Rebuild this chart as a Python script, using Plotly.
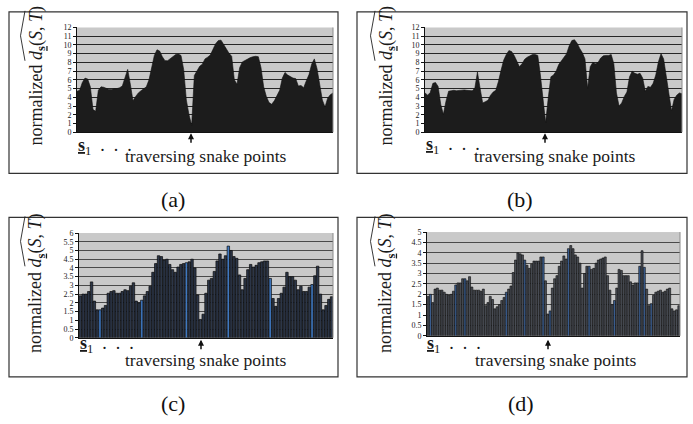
import plotly.graph_objects as go

W, H = 693, 424

# ---------------- data ----------------
a_vals = [4.7, 4.8, 5.7, 6.2, 6.1, 5.2, 2.6, 2.4, 4.8, 5.2, 5.15, 5.0, 4.9, 4.9, 5.0, 5.0,
          5.1, 5.3, 6.4, 7.2, 5.5, 3.6, 4.1, 4.5, 4.75, 5.0, 5.2, 6.0, 7.5, 8.8, 9.45, 9.3,
          8.65, 8.2, 8.2, 8.4, 8.7, 8.9, 8.95, 8.8, 7.2, 3.7, 2.0, 0.8, 6.5, 7.1, 7.55, 7.8,
          8.4, 8.6, 8.85, 9.5, 10.15, 10.5, 10.55, 10.05, 9.5, 9.05, 8.7, 6.0, 5.5, 7.4, 8.05,
          8.25, 8.45, 8.55, 8.65, 8.7, 8.65, 7.4, 5.2, 4.1, 3.4, 3.2, 3.6, 4.15, 4.8, 6.2,
          6.85, 6.55, 6.35, 6.2, 6.15, 5.3, 5.35, 5.1, 5.9, 6.6, 7.8, 8.4, 7.3, 5.6, 3.7,
          2.9, 3.9, 4.3, 4.5]

b_vals = [4.5, 4.25, 4.55, 5.6, 5.7, 5.25, 3.2, 2.05, 3.55, 4.7, 4.75, 4.8, 4.75, 4.8,
          4.85, 4.85, 4.8, 4.75, 4.75, 5.05, 6.9, 5.05, 3.35, 3.5, 3.65, 4.25, 4.6, 4.8,
          5.8, 7.1, 8.25, 8.9, 9.35, 9.25, 8.8, 8.15, 7.5, 7.85, 8.35, 8.6, 8.8, 8.9, 8.9,
          8.8, 6.55, 3.55, 1.1, 3.95, 6.35, 6.55, 7.0, 7.75, 8.15, 8.5, 9.0, 9.9, 10.5,
          10.6, 10.2, 9.6, 9.1, 8.4, 5.05, 7.5, 8.0, 7.85, 8.0, 8.5, 8.75, 8.8, 8.8, 8.9,
          7.85, 4.5, 3.0, 3.35, 4.1, 4.6, 6.35, 7.0, 6.75, 6.65, 6.75, 6.2, 4.7, 5.25, 5.15,
          5.6, 6.55, 8.05, 9.0, 8.4, 6.55, 4.3, 2.45, 3.75, 4.25, 4.5, 4.4]

c_vals = [2.4, 2.5, 2.5, 2.65, 3.2, 2.1, 1.6, 1.6, 1.7, 1.85, 2.55, 2.65, 2.7, 2.55, 2.55,
          2.65, 2.75, 2.7, 2.95, 3.15, 2.1, 2.0, 2.15, 2.4, 2.65, 2.95, 3.75, 4.25, 4.7,
          4.65, 4.45, 4.5, 4.2, 3.9, 3.75, 4.05, 4.2, 4.25, 4.3, 4.35, 4.5, 4.0, 2.45, 1.05,
          1.35, 2.55, 3.3, 3.4, 3.8, 4.4, 4.8, 4.5, 4.7, 5.25, 5.0, 4.65, 4.55, 3.6, 2.75,
          3.4, 3.9, 4.2, 4.05, 4.15, 4.3, 4.35, 4.4, 4.4, 3.4, 2.25, 1.8, 2.25, 2.55, 2.9,
          3.75, 3.5, 3.5, 3.3, 2.75, 2.95, 2.65, 2.65, 2.9, 3.05, 3.55, 4.1, 2.5, 1.6, 1.85,
          2.2, 2.35]
c_blue = [8, 23, 39, 54, 69, 84]

d_vals = [1.9, 2.0, 1.6, 2.25, 2.3, 2.2, 2.2, 2.1, 2.0, 1.95, 2.0, 2.15, 2.45, 2.55, 2.55,
          2.75, 2.75, 2.65, 2.85, 2.35, 2.2, 2.2, 2.2, 2.15, 2.25, 1.45, 1.6, 1.9, 1.75, 1.3,
          1.4, 1.5, 1.7, 1.85, 2.1, 2.25, 2.4, 3.05, 3.65, 4.0, 3.95, 3.9, 3.65, 3.4, 3.25,
          3.45, 3.6, 3.6, 3.6, 3.8, 3.8, 2.65, 1.05, 1.2, 2.3, 2.75, 2.9, 3.35, 3.6, 3.85,
          3.7, 4.2, 4.35, 4.2, 3.9, 3.8, 3.5, 2.3, 3.0, 3.35, 3.35, 3.2, 3.25, 3.5, 3.65,
          3.7, 3.75, 3.8, 2.9, 2.2, 1.5, 1.7, 2.3, 3.2, 3.15, 2.9, 2.9, 2.9, 2.6, 2.45, 2.55,
          2.55, 3.35, 4.1, 3.3, 2.25, 1.45, 1.55, 1.95, 2.1, 2.15, 2.2, 2.1, 2.15, 2.25, 2.3,
          1.3, 1.2, 1.25, 1.45]
d_blue = [2, 13, 17, 35, 43, 51, 54, 62, 71, 82, 93, 95, 98]

captions = ["(a)", "(b)", "(c)", "(d)"]
y_title = "normalized <i>d</i><sub><b><u>s</u></b></sub>(<i>S</i>, <i>T</i>)"
x_title = "traversing snake points"
start_label = "<b><u>s</u></b><sub>1</sub>  .  .  ."

SERIF = "Liberation Serif"


def px(x):
    return x / W


def py(y):
    return 1 - y / H


fig = go.Figure()

# area charts
fig.add_trace(go.Scatter(x=list(range(len(a_vals))), y=a_vals, mode="lines", fill="tozeroy",
                         line=dict(color="#111111", width=0.6), fillcolor="#1c1c1c",
                         xaxis="x", yaxis="y", showlegend=False))
fig.add_trace(go.Scatter(x=list(range(len(b_vals))), y=b_vals, mode="lines", fill="tozeroy",
                         line=dict(color="#111111", width=0.6), fillcolor="#1c1c1c",
                         xaxis="x2", yaxis="y2", showlegend=False))

# bar charts
c_cols = ["#3f78c0" if (i + 1) in c_blue else "#2c3648" for i in range(len(c_vals))]
d_cols = ["#3b5f92" if (i + 1) in d_blue else "#4a4e56" for i in range(len(d_vals))]
fig.add_trace(go.Bar(x=list(range(len(c_vals))), y=c_vals, marker=dict(color=c_cols, line=dict(color="#0a0a0a", width=0.7)),
                     xaxis="x3", yaxis="y3", showlegend=False))
fig.add_trace(go.Bar(x=list(range(len(d_vals))), y=d_vals, marker=dict(color=d_cols, line=dict(color="#0a0a0a", width=0.6)),
                     xaxis="x4", yaxis="y4", showlegend=False))

panels = [
    dict(ax="", plot=(77, 333, 24, 131), box=(9, 8, 338, 173), ymax=12, dtick=1, n=len(a_vals), kind="area",
         grid="#262626", ytx=37, yty=74, hat=(25, 20.5, 7, 58), s1=(76, 146), tx=(206, 155), arrow=(191, 132, 143), cap=(173, 200)),
    dict(ax="2", plot=(425, 682, 24, 131), box=(357, 8, 687, 173), ymax=12, dtick=1, n=len(b_vals), kind="area",
         grid="#262626", ytx=387, yty=74, hat=(375, 370.5, 7, 58), s1=(424, 145), tx=(555, 155), arrow=(545, 132, 143), cap=(520, 200)),
    dict(ax="3", plot=(79, 333, 234, 341), box=(9, 218, 338, 381), ymax=6, dtick=0.5, n=len(c_vals), kind="bar",
         grid="#4a4a4a", ytx=37, yty=286, hat=(25, 20.5, 217, 268), s1=(78, 348), tx=(206, 364), arrow=(201, 343, 354), cap=(173, 408)),
    dict(ax="4", plot=(427, 680, 233, 339), box=(357, 218, 687, 381), ymax=5, dtick=0.5, n=len(d_vals), kind="bar",
         grid="#4a4a4a", ytx=387, yty=286, hat=(375, 370.5, 217, 268), s1=(425, 348), tx=(556, 364), arrow=(548, 343, 354), cap=(521, 408)),
]

layout = dict(width=W, height=H, margin=dict(l=0, r=0, t=0, b=0), autosize=False,
              paper_bgcolor="white", plot_bgcolor="#c9c9c9", bargap=0.12,
              showlegend=False)
shapes = []
annotations = []

for i, p in enumerate(panels):
    x0, x1, yt, yb = p["plot"]
    xa = "xaxis" + p["ax"]
    ya = "yaxis" + p["ax"]
    if p["kind"] == "area":
        xr = [0, p["n"] - 1]
    else:
        xr = [-0.5, p["n"] - 0.5]
    layout[xa] = dict(domain=[px(x0), px(x1)], range=xr, showgrid=False, zeroline=False,
                      showticklabels=False, ticks="", showline=True, linecolor="#111", linewidth=1,
                      anchor="y" + p["ax"], fixedrange=True)
    layout[ya] = dict(domain=[py(yb), py(yt)], range=[0, p["ymax"]], dtick=p["dtick"], tick0=0,
                      showgrid=True, gridcolor=p["grid"], gridwidth=1, zeroline=False,
                      showline=True, linecolor="#111", linewidth=1, ticks="outside", ticklen=3,
                      tickcolor="#111", tickfont=dict(family=SERIF, size=8, color="#222"),
                      anchor="x" + p["ax"], fixedrange=True)
    # right edge of plot frame
    shapes.append(dict(type="line", xref="paper", yref="paper", x0=px(x1), x1=px(x1), y0=py(yb), y1=py(yt),
                       line=dict(color="#8a8a8a", width=1)))
    # panel box
    bx0, by0, bx1, by1 = p["box"]
    shapes.append(dict(type="rect", xref="paper", yref="paper", x0=px(bx0), x1=px(bx1), y0=py(by1), y1=py(by0),
                       line=dict(color="#333", width=1.2), fillcolor="rgba(0,0,0,0)"))
    # hat over d(S,T)
    hx_end, hx_apex, hy0, hy1 = p["hat"]
    path = "M %f,%f L %f,%f L %f,%f" % (px(hx_end), py(hy1), px(hx_apex), py((hy0 + hy1) / 2), px(hx_end), py(hy0))
    shapes.append(dict(type="path", xref="paper", yref="paper", path=path, line=dict(color="#222", width=0.9)))
    # y title
    annotations.append(dict(text=y_title, textangle=-90, x=px(p["ytx"]), y=py(p["yty"]), xref="paper", yref="paper",
                            xanchor="center", yanchor="middle", showarrow=False,
                            font=dict(family=SERIF, size=18, color="#1a1a1a")))
    # s1 ...
    annotations.append(dict(text=start_label, x=px(p["s1"][0]), y=py(p["s1"][1]), xref="paper", yref="paper",
                            xanchor="left", yanchor="middle", showarrow=False,
                            font=dict(family=SERIF, size=18, color="#1a1a1a")))
    # x title
    annotations.append(dict(text=x_title, x=px(p["tx"][0]), y=py(p["tx"][1]), xref="paper", yref="paper",
                            xanchor="center", yanchor="middle", showarrow=False,
                            font=dict(family=SERIF, size=17.5, color="#1a1a1a")))
    # arrow
    ax_x, tip_y, tail_y = p["arrow"]
    annotations.append(dict(text="", x=px(ax_x), y=py(tip_y), xref="paper", yref="paper",
                            ax=0, ay=(tail_y - tip_y), showarrow=True, arrowhead=2, arrowsize=0.8,
                            arrowwidth=1.5, arrowcolor="#111"))
    # caption
    annotations.append(dict(text=captions[i], x=px(p["cap"][0]), y=py(p["cap"][1]), xref="paper", yref="paper",
                            xanchor="center", yanchor="middle", showarrow=False,
                            font=dict(family=SERIF, size=22, color="#111")))

layout["shapes"] = shapes
layout["annotations"] = annotations
fig.update_layout(**layout)

fig.write_html("out.html")
